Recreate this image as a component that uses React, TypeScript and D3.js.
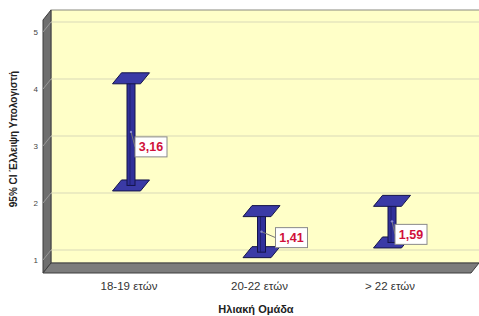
import React, { useEffect, useRef } from "react";
import * as d3 from "d3";

// values
const categories = ["18-19 ετών", "20-22 ετών", "> 22 ετών"];
const means = [3.16, 1.41, 1.59];
const lower = [2.22, 1.05, 1.22];
const upper = [4.1, 1.77, 1.95];
const yTicks = [1, 2, 3, 4, 5];
const meanLabels = ["3,16", "1,41", "1,59"];

const W = 479;
const H = 316;
// depth of the 3d box: back wall is half a step up/right of the bars
const DX = 8;
const DY = 10;
const wallTop = 10;
const wallBottom = 263;
const wallLeft = 51;
const wallRight = 482;

// Excel moved some labels by hand
const labelNudge = [
  { dx: 4, dy: 5 },
  { dx: 14, dy: -4 },
  { dx: 3, dy: 3 },
];

export default function App() {
  const ref = useRef<SVGSVGElement>(null);

  useEffect(() => {
    const svg = d3.select(ref.current);
    svg.selectAll("*").remove();

    const y = d3.scaleLinear().domain([1, 5]).range([255, 27]);
    const x = d3.scalePoint<string>().domain(categories).range([131, 392]);
    const font = "Arial, 'Liberation Sans', sans-serif";

    // back wall
    svg.append("rect")
      .attr("x", wallLeft).attr("y", wallTop)
      .attr("width", wallRight - wallLeft).attr("height", wallBottom - wallTop)
      .attr("fill", "#ffffc8")
      .attr("stroke", "#8a8a80").attr("stroke-width", 1);

    // left wall
    svg.append("path")
      .attr("d", `M${wallLeft - DX},${wallTop + DY}L${wallLeft},${wallTop}L${wallLeft},${wallBottom}L${wallLeft - DX},${wallBottom + DY}Z`)
      .attr("fill", "#6e6e6e").attr("stroke", "#3c3c3c").attr("stroke-width", 1);

    // gridlines on back and left wall
    const grid = svg.append("g");
    yTicks.forEach(t => {
      const yb = y(t) - DY / 2;
      grid.append("line")
        .attr("x1", wallLeft).attr("x2", wallRight)
        .attr("y1", yb).attr("y2", yb)
        .attr("stroke", "#d9d9b8").attr("stroke-width", 1);
      grid.append("line")
        .attr("x1", wallLeft - DX).attr("x2", wallLeft)
        .attr("y1", yb + DY).attr("y2", yb)
        .attr("stroke", "#9a9a9a").attr("stroke-width", 1);
    });

    // floor
    svg.append("path")
      .attr("d", `M${wallLeft},${wallBottom}L${wallRight - 3},${wallBottom}L${wallRight - 3 - DX},${wallBottom + DY}L${wallLeft - DX},${wallBottom + DY}Z`)
      .attr("fill", "#7c7c7c").attr("stroke", "#3c3c3c").attr("stroke-width", 1);

    // y tick labels
    svg.append("g").selectAll("text").data(yTicks).join("text")
      .attr("x", 38).attr("y", d => y(d) + DY / 2 + 3)
      .attr("text-anchor", "end")
      .attr("font-family", font).attr("font-size", 8)
      .attr("fill", "#444")
      .text(d => d);

    // category labels
    svg.append("g").selectAll("text").data(categories).join("text")
      .attr("x", d => x(d)! - 2).attr("y", 290)
      .attr("text-anchor", "middle")
      .attr("font-family", font).attr("font-size", 11.5)
      .attr("fill", "#333")
      .text(d => d);

    // axis titles
    svg.append("text")
      .attr("transform", `translate(17,139) rotate(-90)`)
      .attr("text-anchor", "middle")
      .attr("font-family", font).attr("font-size", 10).attr("font-weight", "bold")
      .attr("fill", "#222")
      .text("95% CI Έλλειψη Υπολογιστή");
    svg.append("text")
      .attr("x", 256).attr("y", 313)
      .attr("text-anchor", "middle")
      .attr("font-family", font).attr("font-size", 11).attr("font-weight", "bold")
      .attr("fill", "#222")
      .text("Ηλιακή Ομάδα");

    // error bars
    const cap = (cx: number, cy: number) => {
      const hw = 14, sk = 4.5, hh = 5.5;
      return `M${cx - hw - sk},${cy + hh}L${cx + hw - sk},${cy + hh}L${cx + hw + sk},${cy - hh}L${cx - hw + sk},${cy - hh}Z`;
    };
    categories.forEach((c, i) => {
      const cx = x(c)!;
      const g = svg.append("g");
      const yTop = y(upper[i]);
      const yBot = y(lower[i]);
      g.append("path").attr("d", cap(cx, yBot))
        .attr("fill", "#3a3aa6").attr("stroke", "#14144a").attr("stroke-width", 1);
      g.append("rect")
        .attr("x", cx - 4).attr("y", yTop)
        .attr("width", 8).attr("height", yBot - yTop)
        .attr("fill", "#30309a").attr("stroke", "#14144a").attr("stroke-width", 1);
      g.append("line")
        .attr("x1", cx - 1).attr("x2", cx - 1).attr("y1", yTop).attr("y2", yBot)
        .attr("stroke", "#1c1c66").attr("stroke-width", 0.8);
      g.append("path").attr("d", cap(cx, yTop))
        .attr("fill", "#3a3aa6").attr("stroke", "#14144a").attr("stroke-width", 1);

      const ym = y(means[i]);
      const bx = cx + labelNudge[i].dx;
      const by = ym + labelNudge[i].dy;
      const bw = 32, bh = 20;
      g.append("line")
        .attr("x1", cx).attr("y1", ym)
        .attr("x2", bx).attr("y2", by + bh / 2)
        .attr("stroke", "#777").attr("stroke-width", 1);
      g.append("circle").attr("cx", cx).attr("cy", ym).attr("r", 1.2).attr("fill", "#8888cc");
      g.append("rect")
        .attr("x", bx).attr("y", by).attr("width", bw).attr("height", bh)
        .attr("fill", "#fff").attr("stroke", "#8a8a8a").attr("stroke-width", 1);
      g.append("text")
        .attr("x", bx + bw / 2).attr("y", by + bh / 2 + 4.5)
        .attr("text-anchor", "middle")
        .attr("font-family", font).attr("font-size", 12.5).attr("font-weight", "bold")
        .attr("fill", "#d0103a")
        .text(meanLabels[i]);
    });
  }, []);

  return (
    <svg ref={ref} width={W} height={H}
      style={{ position: "absolute", left: 0, top: 0, background: "#fff" }} />
  );
}
